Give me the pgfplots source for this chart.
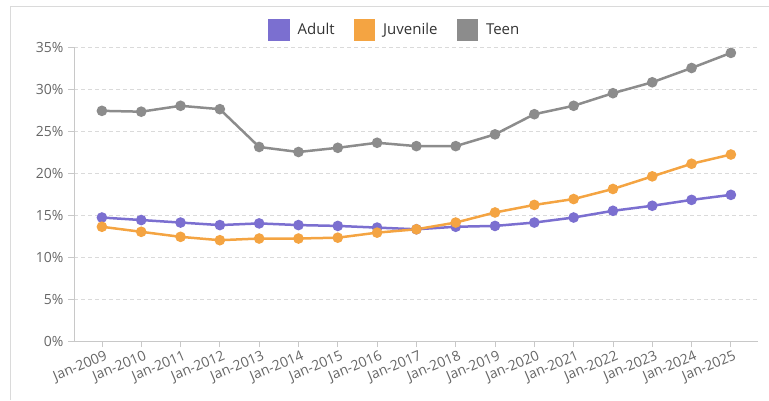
\documentclass[border=0pt]{standalone}
\usepackage{pgfplots}
\pgfplotsset{compat=1.18}
\usepackage{fontspec}
\setmainfont{Open Sans}
\definecolor{cAdult}{RGB}{123,111,208}
\definecolor{cJuv}{RGB}{244,164,66}
\definecolor{cTeen}{RGB}{140,140,140}
\definecolor{cText}{RGB}{102,102,102}
\definecolor{cGrid}{RGB}{218,218,218}
\definecolor{cAxis}{RGB}{200,200,200}
\begin{document}
\begin{tikzpicture}[x=1pt,y=1pt]
\useasboundingbox (0,0) rectangle (769,400);
\draw[cGrid, line width=1pt] (10,0) -- (10,393) -- (769,393);
\begin{axis}[
  at={(74pt,59pt)}, anchor=south west,
  scale only axis, width=684pt, height=294pt,
  xmin=-0.71, xmax=16.69, ymin=0, ymax=35,
  xtick={0,...,16},
  xticklabels={Jan-2009,Jan-2010,Jan-2011,Jan-2012,Jan-2013,Jan-2014,Jan-2015,Jan-2016,Jan-2017,Jan-2018,Jan-2019,Jan-2020,Jan-2021,Jan-2022,Jan-2023,Jan-2024,Jan-2025},
  ytick={0,5,...,35},
  yticklabel={\pgfmathprintnumber{\tick}\%},
  /pgf/number format/assume math mode=true,
  ymajorgrids,
  grid style={cGrid, dash pattern=on 4pt off 3pt, line width=0.8pt},
  axis x line*=bottom, axis y line*=left,
  x axis line style={cAxis, line width=1pt, -},
  y axis line style={cAxis, line width=1pt, -},
  tick style={cAxis, line width=0.8pt},
  tick align=outside,
  major tick length=6pt,
  ticklabel style={font=\fontsize{14}{16}\selectfont, text=cText},
  xticklabel style={rotate=23, anchor=north east, inner sep=0pt, yshift=-3pt, xshift=1pt},
  yticklabel style={xshift=-1pt},
  legend columns=-1,
  legend style={at={(0.469,1.058)}, anchor=center, draw=none, fill=none,
    font=\fontsize{15}{17}\selectfont, text=black!80,
    /tikz/every odd column/.append style={column sep=6pt},
    /tikz/every even column/.append style={column sep=17pt}},
  legend image code/.code={\fill[#1] (0pt,-9.5pt) rectangle (19pt,9.5pt);},
  every axis plot/.append style={line width=2.5pt, mark=*, mark size=4pt},
  clip=false,
]
\addplot[color=cAdult, mark options={fill=cAdult}] coordinates {
(0,14.7) (1,14.4) (2,14.1) (3,13.8) (4,14.0) (5,13.8) (6,13.7) (7,13.5) (8,13.3)
(9,13.6) (10,13.7) (11,14.1) (12,14.7) (13,15.5) (14,16.1) (15,16.8) (16,17.4)};
\addlegendentry{Adult}
\addplot[color=cJuv, mark options={fill=cJuv}] coordinates {
(0,13.6) (1,13.0) (2,12.4) (3,12.0) (4,12.2) (5,12.2) (6,12.3) (7,12.9) (8,13.3)
(9,14.1) (10,15.3) (11,16.2) (12,16.9) (13,18.1) (14,19.6) (15,21.1) (16,22.2)};
\addlegendentry{Juvenile}
\addplot[color=cTeen, mark options={fill=cTeen}] coordinates {
(0,27.4) (1,27.3) (2,28.0) (3,27.6) (4,23.1) (5,22.5) (6,23.0) (7,23.6) (8,23.2)
(9,23.2) (10,24.6) (11,27.0) (12,28.0) (13,29.5) (14,30.8) (15,32.5) (16,34.3)};
\addlegendentry{Teen}
\end{axis}
\end{tikzpicture}
\end{document}
